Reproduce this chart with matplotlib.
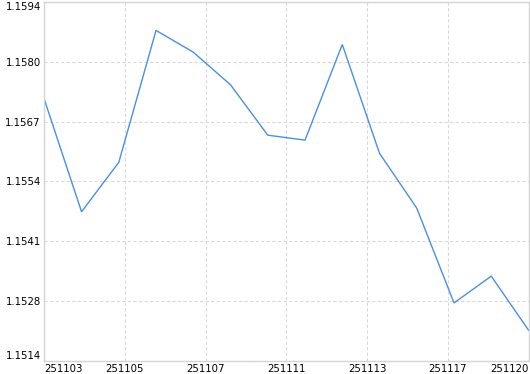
import numpy as np
import matplotlib
matplotlib.use("Agg")
import matplotlib.pyplot as plt

dates = ["251103", "251104", "251105", "251106", "251107", "251110", "251111",
         "251112", "251113", "251114", "251117", "251118", "251119", "251120"]
values = [1.15721, 1.15473, 1.15582, 1.15873, 1.15825, 1.15753, 1.15642,
          1.15631, 1.15842, 1.15602, 1.15481, 1.15272, 1.15331, 1.15212]
y_tick_labels = ["1.1514", "1.1528", "1.1541", "1.1554", "1.1567", "1.1580", "1.1594"]
y_min, y_max = 1.15144, 1.15936

fig = plt.figure(figsize=(5.30, 3.74), dpi=100)
W, H = 530, 374
left, right, top, bottom = 44.3, 528.5, 1.85, 360.95
ax = fig.add_axes([left / W, 1 - bottom / H, (right - left) / W, (bottom - top) / H])

x = np.arange(len(values))
ax.plot(x, values, color="#4A8FE7", lw=1.0, solid_joinstyle="miter")

n = len(values) - 1
ax.set_xlim(0, n)
ax.set_ylim(y_min, y_max)

xt = np.linspace(0, n, 7)
ax.set_xticks(xt)
ax.set_xticklabels([dates[int(np.floor(t + 1e-9))] for t in xt])
yt = np.linspace(y_min, y_max, 7)
ax.set_yticks(yt)
ax.set_yticklabels(y_tick_labels)

ax.tick_params(axis="both", length=0, labelsize=7.3, colors="#000000")
ax.tick_params(axis="x", pad=2.0)
ax.tick_params(axis="y", pad=2.5)

xl = ax.get_xticklabels()
xl[0].set_ha("left")
xl[-1].set_ha("right")
yl = ax.get_yticklabels()
yl[0].set_va("bottom")
yl[-1].set_va("top")

ax.grid(True, color="#d9d9d9", lw=0.8, linestyle=(0, (3, 2)))
ax.set_axisbelow(True)
for s in ax.spines.values():
    s.set_color("#d4d4d4")
    s.set_linewidth(1.0)

fig.savefig("out.png", dpi=100)
